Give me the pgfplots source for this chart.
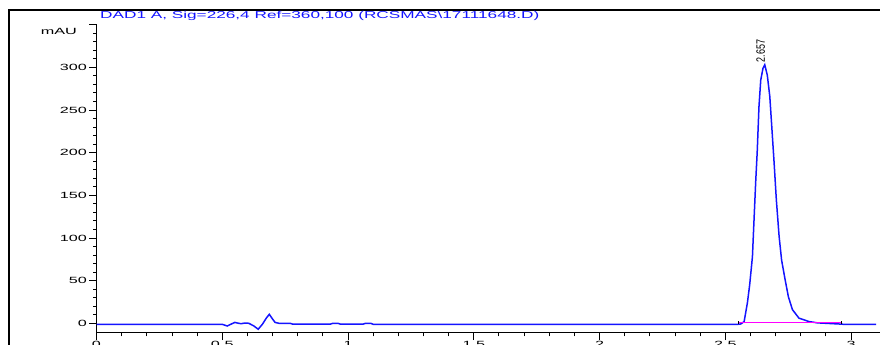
\documentclass[border=0pt]{standalone}
\usepackage{pgfplots}
\pgfplotsset{compat=1.18}
\usepackage{graphicx}
\usepackage{fontspec}
\setmainfont{Liberation Sans}
% ChemStation-style wide lettering
\newcommand\wide[1]{\scalebox{1.8}[1]{#1}}
\definecolor{trace}{RGB}{20,20,255}
\definecolor{bline}{RGB}{255,0,255}

\begin{document}
\begin{tikzpicture}[x=1pt,y=1pt]
\path[use as bounding box] (0,0) rectangle (880,345);
\clip (0,0) rectangle (880,345);
% outer frame
\draw[line width=2pt] (9,-20) -- (9,335) -- (900,335);
% signal description
\node[anchor=base west, inner sep=0, text=trace, font=\fontsize{10}{12}\selectfont]
  at (100,326) {\scalebox{1.72}[1]{DAD1 A, Sig=226,4 Ref=360,100 (RCSMAS\textbackslash 17111648.D)}};
% unit label
\node[anchor=east, inner sep=0, font=\fontsize{9}{11}\selectfont] at (77,314) {\wide{mAU}};
\begin{axis}[
  at={(96.5pt,12pt)}, anchor=south west,
  scale only axis, width=784.7pt, height=308.3pt,
  xmin=0, xmax=3.12, ymin=-11.4, ymax=350,
  axis x line=bottom, axis y line=left,
  axis line style={-, line width=1pt},
  tick align=outside,
  xtick={0,0.5,...,3}, xticklabels={\wide{0},\wide{0.5},\wide{1},\wide{1.5},\wide{2},\wide{2.5},\wide{3}},
  ytick={0,50,...,350}, yticklabels={\wide{0},\wide{50},\wide{100},\wide{150},\wide{200},\wide{250},\wide{300},{}},
  minor x tick num=4, minor y tick num=4,
  major tick length=7pt, minor tick length=3.5pt,
  tick style={line width=0.9pt, black},
  ticklabel style={font=\fontsize{9}{11}\selectfont, inner sep=0pt},
  yticklabel style={xshift=-2.5pt},
  xticklabel style={yshift=-1pt},
  clip=false,
]
% chromatogram trace
\addplot[trace, line width=1.5pt] coordinates {
  (0,-1.2) (0.50,-1.2) (0.52,-3.2) (0.535,-1) (0.55,1) (0.565,0) (0.575,-0.5)
  (0.59,0.3) (0.605,0) (0.625,-3) (0.643,-7) (0.66,-1) (0.675,6) (0.687,10.5)
  (0.70,5) (0.71,1) (0.725,0) (0.77,0) (0.78,-1) (0.93,-1) (0.94,0) (0.96,0)
  (0.97,-1) (1.06,-1) (1.07,0) (1.09,0) (1.10,-1.2) (2.55,-1.2) (2.562,-0.8)
  (2.575,2) (2.588,24) (2.597,45) (2.608,78) (2.614,119) (2.621,166) (2.627,201)
  (2.634,254) (2.641,285) (2.650,299) (2.657,303) (2.667,291) (2.677,266)
  (2.685,230) (2.694,189) (2.703,145) (2.714,102) (2.724,74) (2.738,51)
  (2.751,31) (2.767,16) (2.793,6) (2.833,2) (2.866,0.5) (2.95,-0.8) (2.97,-1.2)
  (3.10,-1.2)
};
% integration baseline
\addplot[bline, line width=1pt] coordinates {(2.552,0.6) (2.963,0.6)};
\addplot[black, only marks, mark=|, mark size=1.6pt, mark options={line width=1pt}]
  coordinates {(2.552,0.6) (2.963,0.6)};
% retention time of the peak
\node[rotate=90, anchor=base west, inner sep=0, font=\fontsize{9}{11}\selectfont]
  at (axis cs:2.657,306) {\scalebox{1}[1.35]{2.657}};
\end{axis}
\end{tikzpicture}
\end{document}
